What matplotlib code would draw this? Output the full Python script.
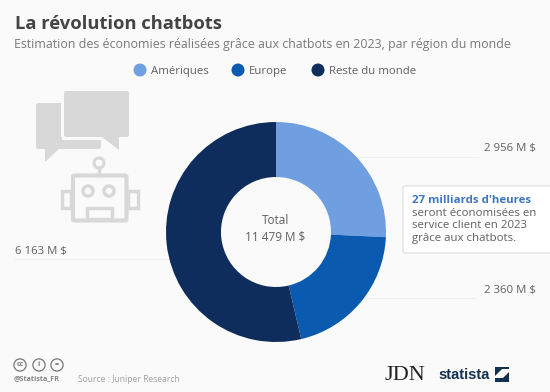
import matplotlib
matplotlib.use("Agg")
import matplotlib.pyplot as plt
from matplotlib.patches import Circle, FancyBboxPatch, Polygon, Rectangle

plt.rcParams['font.family'] = ['Open Sans', 'DejaVu Sans']

regions = ['Amériques', 'Europe', 'Reste du monde']
valeurs = [2956, 2360, 6163]
etiquettes = ['2 956 M $', '2 360 M $', '6 163 M $']
couleurs = ['#6f9fe0', '#0a5bb0', '#0f2d5c']
total = 'Total\n11 479 M $'

GRIS = '#606060'
FOND = '#fafafa'
ICONE = '#d8d8d8'

fig = plt.figure(figsize=(5.5, 3.92), dpi=100, facecolor=FOND)

# calque en pixels pour les textes et les icones
bg = fig.add_axes([0, 0, 1, 1])
bg.set_xlim(0, 550)
bg.set_ylim(392, 0)
bg.axis('off')

bg.text(15, 24, 'La révolution chatbots', fontsize=13.2, fontweight='bold', color='#444444', va='center')
bg.text(14, 44, 'Estimation des économies réalisées grâce aux chatbots en 2023, par région du monde',
        fontsize=8.88, color='#7a7a7a', va='center')

# légende
for x, nom, c in zip([140, 238, 318], regions, couleurs):
    bg.add_patch(Circle((x, 70), 6.5, color=c, lw=0))
    bg.text(x + 11, 71, nom, fontsize=8.2, color=GRIS, va='center')

# lignes de rappel
for x0, x1, y in [(357, 478, 157), (362, 475, 298), (15, 172, 259)]:
    bg.plot([x0, x1], [y, y], color='#efefef', lw=0.8, zorder=1)

# bulles
bg.add_patch(FancyBboxPatch((36, 103), 65, 46, boxstyle='round,pad=0,rounding_size=2', color=ICONE, lw=0))
bg.add_patch(Polygon([(45, 148), (45, 162), (60, 148)], color=ICONE, lw=0))
bg.add_patch(Rectangle((61, 100), 44, 37, color=FOND, lw=0))
bg.add_patch(FancyBboxPatch((64, 91), 65, 46, boxstyle='round,pad=0,rounding_size=2', color=ICONE, lw=0))
bg.add_patch(Polygon([(102, 137), (119, 150), (119, 137)], color=ICONE, lw=0))
bg.add_patch(Rectangle((62, 137), 40, 2.5, color=FOND, lw=0))

# robot
bg.add_patch(Circle((99, 163), 5, fill=False, ec=ICONE, lw=2.2))
bg.plot([99, 99], [168, 175], color=ICONE, lw=2.5)
bg.add_patch(FancyBboxPatch((73, 175.5), 53.5, 45, boxstyle='round,pad=0,rounding_size=1.5', fill=False, ec=ICONE, lw=3))
bg.add_patch(Rectangle((62, 191), 9, 17, fill=False, ec=ICONE, lw=2.5))
bg.add_patch(Rectangle((128, 191), 10, 17, fill=False, ec=ICONE, lw=2.5))
bg.add_patch(Circle((88, 191), 5, fill=False, ec=ICONE, lw=2.5))
bg.add_patch(Circle((109, 191), 5, fill=False, ec=ICONE, lw=2.5))
bg.add_patch(Rectangle((87, 208), 25, 11, fill=False, ec=ICONE, lw=2.5))

# donut
ax = fig.add_axes([166 / 550, 1 - 342 / 392, 220 / 550, 220 / 392])
ax.pie(valeurs, colors=couleurs, startangle=90, counterclock=False, radius=1,
       wedgeprops=dict(width=0.5, edgecolor='none'))
ax.set_xlim(-1, 1)
ax.set_ylim(-1, 1)
ax.text(-0.005, 0.03, total, ha='center', va='center', fontsize=8.5, color=GRIS, linespacing=1.27)

# valeurs
bg.text(536, 148, etiquettes[0], ha='right', va='center', fontsize=8.2, color=GRIS)
bg.text(536, 290, etiquettes[1], ha='right', va='center', fontsize=8.2, color=GRIS)
bg.text(15, 251, etiquettes[2], ha='left', va='center', fontsize=8.2, color=GRIS)

# encadré
bg.add_patch(FancyBboxPatch((403, 186), 160, 67, boxstyle='round,pad=0,rounding_size=2',
                            fc='white', ec='#dddddd', lw=0.8, zorder=3))
bg.text(412, 200, "27 milliards d'heures", fontsize=8.25, fontweight='bold', color='#3f76bd', va='center', zorder=4)
for y, ligne in zip([213, 225.5, 238], ['seront économisées en', 'service client en 2023', 'grâce aux chatbots.']):
    bg.text(412, y, ligne, fontsize=8.25, color=GRIS, va='center', zorder=4)

# pied de page
for x, s in zip([20, 39, 57], ['cc', 'i', '=']):
    bg.add_patch(Circle((x, 365), 6.1, fill=False, ec='#777777', lw=0.9))
    bg.text(x, 365, s, fontsize=5, ha='center', va='center', color='#777777', fontweight='bold')
bg.text(14, 379, '@Statista_FR', fontsize=5.2, fontweight='bold', color='#888888', va='center')
bg.text(78, 379, 'Source : Juniper Research', fontsize=6.15, color='#a0a0a0', va='center')
bg.text(404.5, 375, 'JDN', family=['Liberation Serif'], fontsize=16, ha='center', va='center', color='#222222')
bg.text(438, 375, 'statista', family=['Liberation Sans'], fontsize=10.6,
        fontweight='bold', color='#12304f', va='center')
bg.add_patch(Polygon([(495, 367), (509, 367), (509, 369), (502, 369), (495, 376)], color='#12304f', lw=0))
bg.add_patch(Polygon([(495, 382), (509, 382), (509, 372), (503, 378), (495, 378)], color='#12304f', lw=0))

fig.savefig('out.png', dpi=100, facecolor=FOND)
